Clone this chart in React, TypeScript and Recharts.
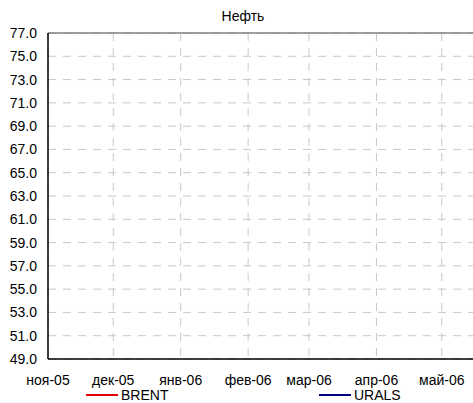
import { LineChart, Line, XAxis, YAxis, CartesianGrid, ReferenceLine } from "recharts";

// month starts shown on the time axis
const monthTicks = [
  Date.UTC(2005, 10, 1),
  Date.UTC(2005, 11, 1),
  Date.UTC(2006, 0, 1),
  Date.UTC(2006, 1, 1),
  Date.UTC(2006, 2, 1),
  Date.UTC(2006, 3, 1),
  Date.UTC(2006, 4, 1),
];
const monthLabels = ["ноя-05", "дек-05", "янв-06", "фев-06", "мар-06", "апр-06", "май-06"];
const xDomain = [Date.UTC(2005, 10, 1), Date.UTC(2006, 4, 31)];

const priceTicks = [49, 51, 53, 55, 57, 59, 61, 63, 65, 67, 69, 71, 73, 75, 77];

// no line is visible inside the plotted range
const brent: (number | null)[] = [null, null, null, null, null, null, null];
const urals: (number | null)[] = [null, null, null, null, null, null, null];

const rows = monthTicks.map((date, i) => ({ date, brent: brent[i], urals: urals[i] }));

const FONT = "Arial, 'Liberation Sans', sans-serif";

const legendItems = [
  { name: "BRENT", color: "#e00000", left: 86 },
  { name: "URALS", color: "#000080", left: 319 },
];

export default function App() {
  return (
    <div
      style={{
        position: "fixed",
        left: 0,
        top: 0,
        width: 473,
        height: 403,
        overflow: "hidden",
        background: "#fff",
        fontFamily: FONT,
      }}
    >
      <div
        style={{
          position: "absolute",
          left: 0,
          width: 486,
          top: 8,
          textAlign: "center",
          fontSize: 14,
          color: "#000",
        }}
      >
        Нефть
      </div>
      <LineChart
        width={507}
        height={403}
        data={rows}
        margin={{ top: 33, right: 0, bottom: 0, left: 0 }}
        style={{ position: "absolute", left: 0, top: 0 }}
      >
        <CartesianGrid stroke="#c8c8c8" strokeDasharray="8 7" />
        <XAxis
          dataKey="date"
          type="number"
          scale="time"
          domain={xDomain}
          ticks={monthTicks}
          tickFormatter={(v: number) => monthLabels[monthTicks.indexOf(v)] ?? ""}
          height={44}
          axisLine={{ stroke: "#000", strokeWidth: 1.5 }}
          tickLine={false}
          tickSize={0}
          tickMargin={16}
          tick={{ fill: "#000", fontSize: 14, fontFamily: FONT }}
          interval={0}
          allowDataOverflow
        />
        <YAxis
          type="number"
          domain={[49, 77]}
          ticks={priceTicks}
          tickFormatter={(v: number) => v.toFixed(1)}
          width={48}
          axisLine={{ stroke: "#000", strokeWidth: 1.5 }}
          tickLine={false}
          tickSize={0}
          tickMargin={11}
          tick={{ fill: "#000", fontSize: 14, fontFamily: FONT }}
          interval={0}
          allowDataOverflow
        />
        <ReferenceLine y={77} stroke="#808080" strokeWidth={1.5} />
        <Line dataKey="brent" stroke="#e00000" strokeWidth={2} dot={false} isAnimationActive={false} />
        <Line dataKey="urals" stroke="#000080" strokeWidth={2} dot={false} isAnimationActive={false} />
      </LineChart>
      {legendItems.map((item) => (
        <div
          key={item.name}
          style={{
            position: "absolute",
            left: item.left,
            top: 387,
            display: "flex",
            alignItems: "center",
            fontSize: 14,
            lineHeight: "16px",
            color: "#000",
          }}
        >
          <span style={{ width: 32, height: 2, background: item.color, marginRight: 3 }} />
          {item.name}
        </div>
      ))}
    </div>
  );
}
